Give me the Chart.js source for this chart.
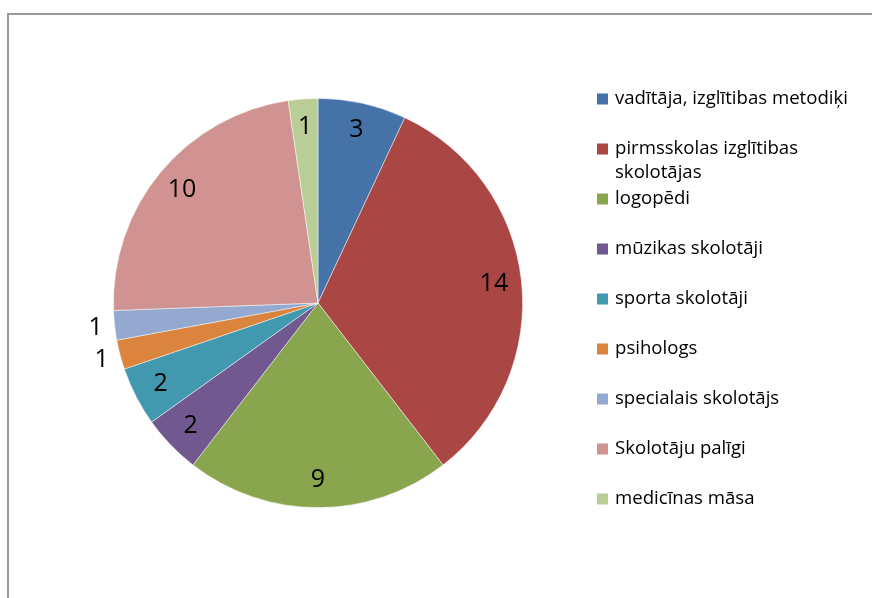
<!DOCTYPE html>
<html>
<head>
<meta charset="utf-8">
<script src="https://cdn.jsdelivr.net/npm/chart.js@4"></script>
<style>
html,body{margin:0;padding:0;background:#fff;}
#wrap{position:relative;width:872px;height:598px;overflow:hidden;}
#frame{position:absolute;left:7px;top:13px;right:-5px;bottom:-5px;border-left:2px solid #9a9a9a;border-top:2px solid #9a9a9a;}
canvas{position:absolute;left:0;top:0;}
</style>
</head>
<body>
<div id="wrap">
<div id="frame"></div>
<canvas id="c" width="872" height="598"></canvas>
</div>
<script>
const categories = [
  "vadītāja, izglītibas metodiķi",
  "pirmsskolas izglītibas skolotājas",
  "logopēdi",
  "mūzikas skolotāji",
  "sporta skolotāji",
  "psihologs",
  "specialais skolotājs",
  "Skolotāju palīgi",
  "medicīnas māsa"
];
const values = [3, 14, 9, 2, 2, 1, 1, 10, 1];
const colors = ["#4572A7","#AA4643","#89A54E","#71588F","#4198AF","#DB843D","#93A9CF","#D19392","#B9CD96"];

const labelPlugin = {
  id: 'sliceLabels',
  afterDatasetsDraw(chart, args, opts) {
    const ctx = chart.ctx;
    const meta = chart.getDatasetMeta(0);
    ctx.save();
    ctx.font = opts.font;
    ctx.fillStyle = '#000';
    ctx.textAlign = 'center';
    ctx.textBaseline = 'middle';
    meta.data.forEach((arc, i) => {
      const p = arc.getProps(['x','y','startAngle','endAngle','outerRadius'], true);
      const mid = (p.startAngle + p.endAngle) / 2;
      const r = opts.outside.includes(i) ? p.outerRadius + opts.outsideGap : p.outerRadius * opts.insideFrac;
      ctx.fillText(String(chart.data.datasets[0].data[i]), p.x + Math.cos(mid) * r, p.y + Math.sin(mid) * r);
    });
    ctx.restore();
  }
};

const legendPlugin = {
  id: 'sideLegend',
  afterDraw(chart, args, opts) {
    const ctx = chart.ctx;
    const ds = chart.data.datasets[0];
    ctx.save();
    ctx.font = opts.font;
    ctx.textBaseline = 'middle';
    ctx.textAlign = 'left';
    chart.data.labels.forEach((lab, i) => {
      const y = opts.top + i * opts.step;
      ctx.fillStyle = ds.backgroundColor[i];
      ctx.fillRect(opts.x, y - opts.box / 2, opts.box, opts.box);
      const words = lab.split(' ');
      const lines = [];
      let cur = '';
      words.forEach(w => {
        const t = cur ? cur + ' ' + w : w;
        if (ctx.measureText(t).width > opts.maxWidth && cur) { lines.push(cur); cur = w; }
        else cur = t;
      });
      lines.push(cur);
      ctx.fillStyle = '#000';
      lines.forEach((ln, k) => ctx.fillText(ln, opts.x + opts.box + 7, y + k * opts.lineHeight));
    });
    ctx.restore();
  }
};

new Chart(document.getElementById('c'), {
  type: 'pie',
  data: {
    labels: categories,
    datasets: [{
      data: values,
      backgroundColor: colors,
      borderColor: 'rgba(255,255,255,0.6)',
      borderWidth: 0.8
    }]
  },
  options: {
    responsive: false,
    animation: false,
    layout: { padding: { left: 113, right: 349, top: 98, bottom: 90 } },
    plugins: {
      legend: { display: false },
      tooltip: { enabled: false },
      sliceLabels: { font: '25px "Open Sans"', outside: [5, 6], outsideGap: 19, insideFrac: 0.865 },
      sideLegend: { font: '18.6px "Open Sans"', x: 597, top: 99, step: 50, box: 11, lineHeight: 24, maxWidth: 245 }
    }
  },
  plugins: [labelPlugin, legendPlugin]
});
</script>
</body>
</html>
